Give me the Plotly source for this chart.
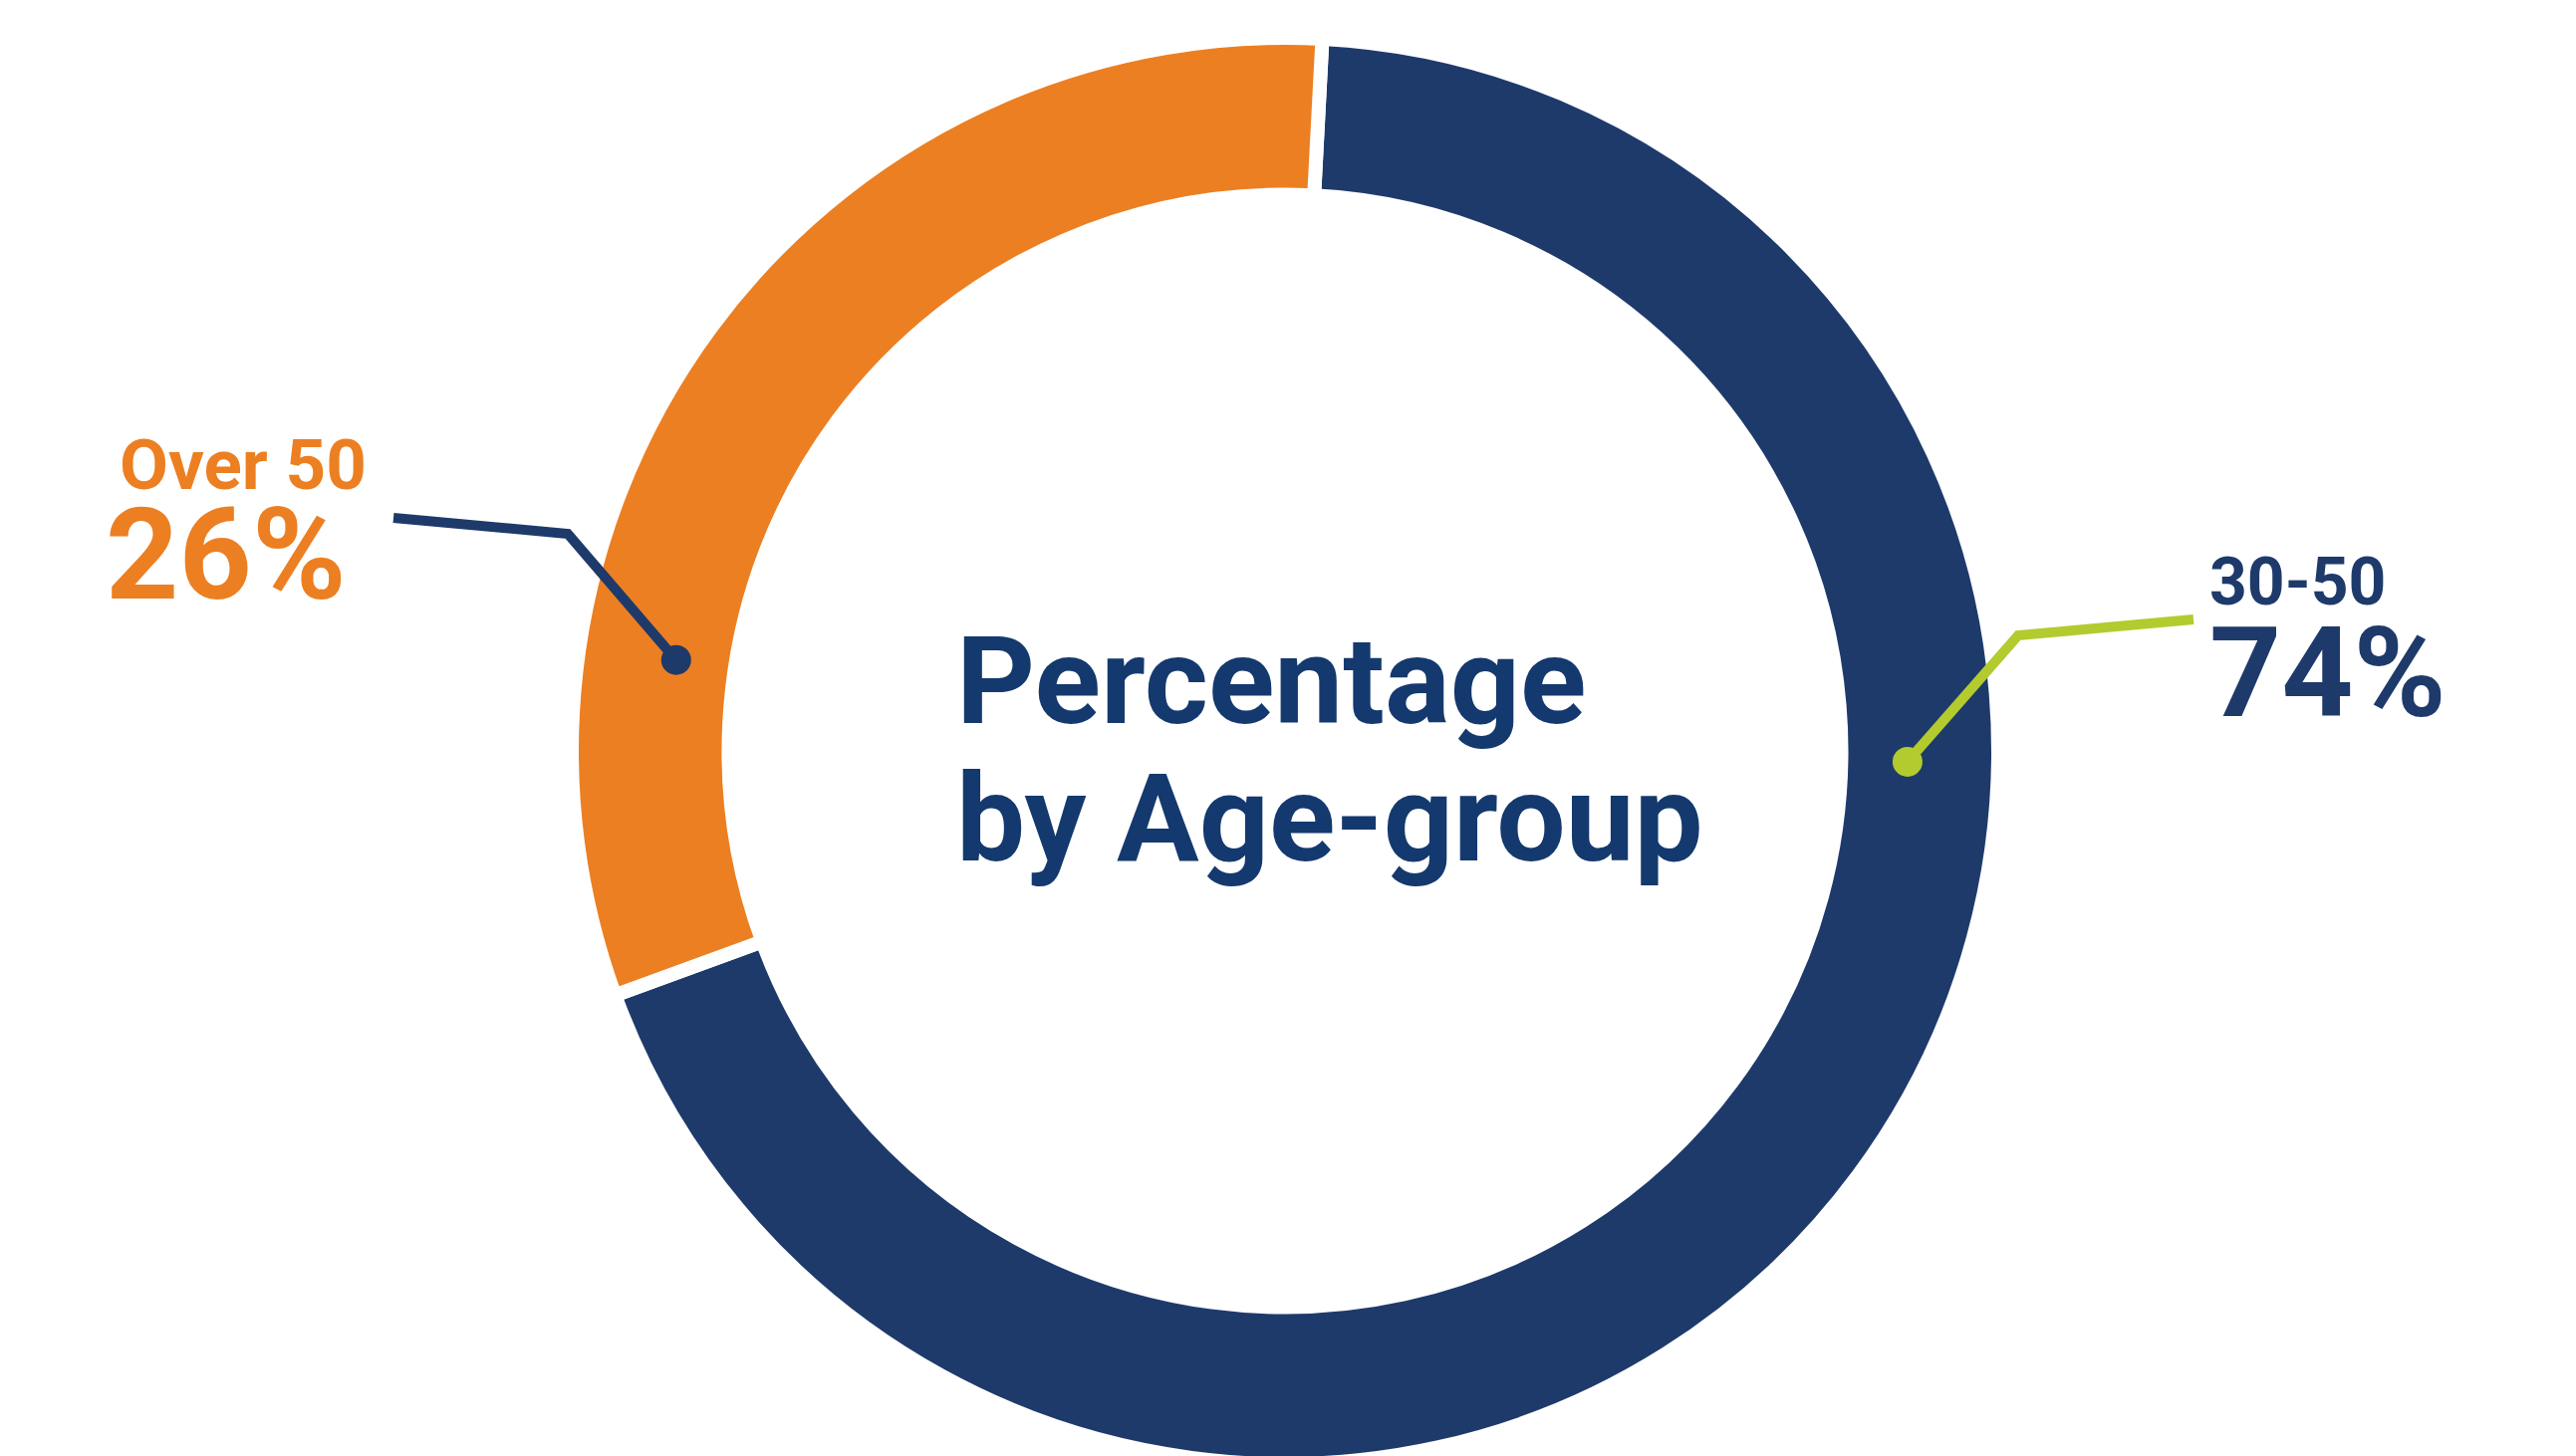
import math
import plotly.graph_objects as go

# ---- data ----
groups = ["30-50", "Over 50"]
slice_share = [68.6, 31.4]          # arc sizes as drawn
shown_pct = ["74%", "26%"]          # percentages printed on the chart
title_lines = ["Percentage", "by Age-group"]

# ---- style ----
W, H = 2586, 1462
NAVY = "#1E3A6B"
NAVY_TXT = "#14396E"
ORANGE = "#EC7F22"
GREEN = "#B3CB2E"
FONT = "Roboto"

top_pad = 30
dom_y = [0, (H - top_pad) / H]
dom_x = [0, 2 * 1282 / W]
R = (H - top_pad) / 2
cx = (dom_x[0] + dom_x[1]) / 2 * W
cy = top_pad + R
hole = 0.78

fig = go.Figure()
fig.add_trace(go.Pie(
    labels=groups, values=slice_share, hole=hole, sort=False,
    direction="clockwise", rotation=3,
    marker=dict(colors=[NAVY, ORANGE], line=dict(color="white", width=14)),
    textinfo="none", hoverinfo="skip", showlegend=False,
    domain=dict(x=dom_x, y=dom_y),
))

def px(x):
    return x / W

def py(y):
    return 1 - y / H

def ann(text, x, ymid, size, color, weight="bold"):
    fig.add_annotation(
        text=text, x=px(x), y=py(ymid), xref="paper", yref="paper",
        xanchor="left", yanchor="middle", showarrow=False,
        font=dict(family=FONT, size=size, color=color, weight=weight),
    )

# centre title
ann(title_lines[0], 950, 676, 123, NAVY_TXT)
ann(title_lines[1], 950, 814, 123, NAVY_TXT)

# labels
ann(groups[1], 110, 458, 71, ORANGE)
ann(shown_pct[1], 96, 549, 128, ORANGE)
ann(groups[0], 2208, 576, 66, NAVY)
ann(shown_pct[0], 2208, 668, 126, NAVY)

# leader lines (anchored on the ring)
def on_ring(angle_deg, r):
    a = math.radians(angle_deg)
    return cx + r * math.cos(a), cy - r * math.sin(a)

def leader(points, color):
    path = "M " + " L ".join(f"{px(x)},{py(y)}" for x, y in points)
    fig.add_shape(type="path", path=path, xref="paper", yref="paper",
                  line=dict(color=color, width=10), layer="above")
    x, y = points[-1]
    r = 15
    fig.add_shape(type="circle", xref="paper", yref="paper",
                  x0=px(x - r), x1=px(x + r), y0=py(y - r), y1=py(y + r),
                  fillcolor=color, line=dict(width=0), layer="above")

d_navy = on_ring(-1.0, 625)
leader([(2194, 614), (2018, 630), d_navy], GREEN)
d_or = on_ring(171.5, 618)
leader([(387, 512), (562, 528), d_or], NAVY)

fig.update_layout(
    width=W, height=H, margin=dict(l=0, r=0, t=0, b=0),
    paper_bgcolor="white", plot_bgcolor="white",
)
fig.write_html("out.html")
